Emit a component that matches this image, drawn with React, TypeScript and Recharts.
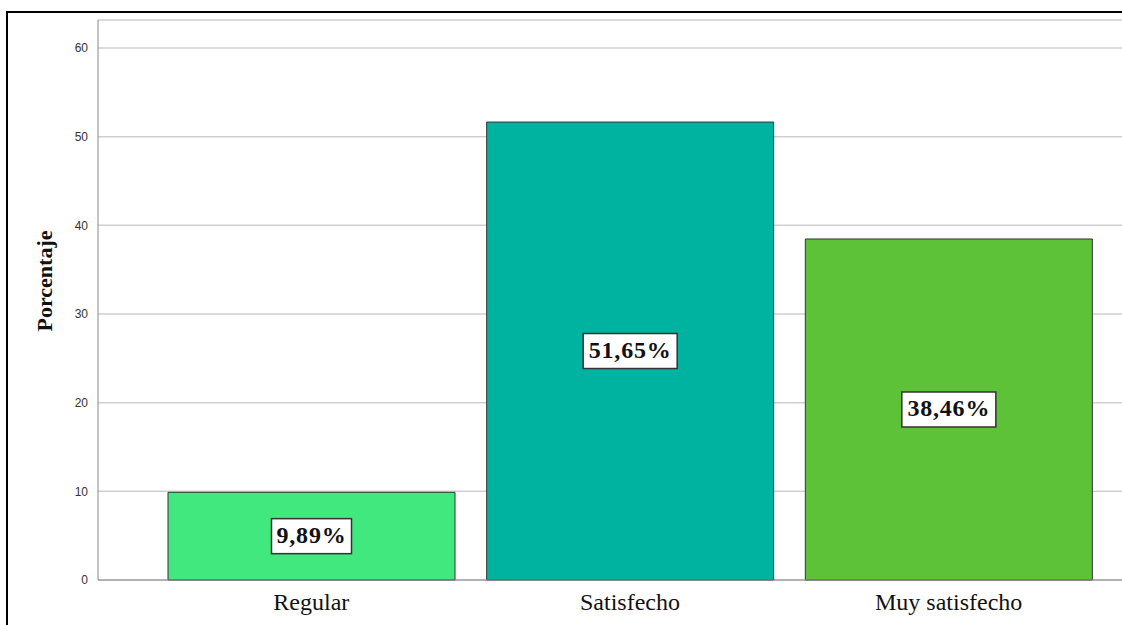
import { BarChart, Bar, XAxis, YAxis, CartesianGrid, Cell, LabelList } from 'recharts'

const categories = ['Regular', 'Satisfecho', 'Muy satisfecho']
const percentages = [9.89, 51.65, 38.46]
const barColors = ['#41e87e', '#00b2a0', '#5ec238']
const yTicks = [0, 10, 20, 30, 40, 50, 60]

const data = categories.map((name, i) => ({ name, value: percentages[i], color: barColors[i] }))

const serif = '"Liberation Serif", "Times New Roman", serif'

function formatPct(v: number): string {
  return `${v.toFixed(2).replace('.', ',')}%`
}

function BoxLabel(props: any) {
  const { x, y, width, height, value } = props
  const text = formatPct(Number(value))
  const w = text.length * 14 + 10
  const h = 35
  const cx = x + width / 2
  const cy = y + height / 2
  return (
    <g>
      <rect x={cx - w / 2} y={cy - h / 2} width={w} height={h} fill="#fff" stroke="#333" strokeWidth={1.5} />
      <text
        x={cx}
        y={cy + 1}
        textAnchor="middle"
        dominantBaseline="middle"
        style={{ fontFamily: serif, fontWeight: 'bold', fontSize: 24, letterSpacing: 0.8 }}
        fill="#111"
      >
        {text}
      </text>
    </g>
  )
}

function YTitle(props: any) {
  const { viewBox } = props
  const cx = 44
  const cy = viewBox.y + viewBox.height / 2 - 19
  return (
    <text
      x={cx}
      y={cy}
      transform={`rotate(-90, ${cx}, ${cy})`}
      textAnchor="middle"
      dominantBaseline="central"
      style={{ fontFamily: serif, fontWeight: 'bold', fontSize: 22 }}
      fill="#111"
    >
      Porcentaje
    </text>
  )
}

export default function App() {
  return (
    <div style={{ position: 'absolute', left: 0, top: 0, width: 1122, height: 625, overflow: 'hidden', background: '#fff' }}>
      <div
        style={{
          position: 'absolute',
          left: 6,
          top: 11,
          width: 1200,
          height: 700,
          borderLeft: '2px solid #000',
          borderTop: '2px solid #000',
        }}
      />
      <div style={{ position: 'absolute', left: 0, top: 0 }}>
        <BarChart width={1122} height={625} data={data} margin={{ top: 20, right: 0, left: 0, bottom: 0 }}>
          <CartesianGrid horizontal vertical={false} stroke="#cfcfcf" strokeWidth={1.5} />
          <XAxis
            dataKey="name"
            height={45}
            padding={{ left: 54, right: 14 }}
            axisLine={{ stroke: '#888' }}
            tickLine={false}
            tickSize={0}
            tickMargin={13}
            tick={{ fontSize: 24, fill: '#111', style: { fontFamily: serif } }}
          />
          <YAxis
            width={98}
            domain={[0, 63.16]}
            ticks={yTicks}
            interval={0}
            axisLine={{ stroke: '#888' }}
            tickLine={false}
            tickSize={0}
            tickMargin={10}
            tick={{ fontSize: 12, fill: '#333', style: { fontFamily: '"Liberation Sans", Arial, sans-serif' } }}
            label={<YTitle />}
          />
          <Bar dataKey="value" barSize={287} stroke="#333" strokeWidth={1} isAnimationActive={false}>
            {data.map((d) => (
              <Cell key={d.name} fill={d.color} />
            ))}
            <LabelList dataKey="value" content={BoxLabel} />
          </Bar>
        </BarChart>
      </div>
    </div>
  )
}
